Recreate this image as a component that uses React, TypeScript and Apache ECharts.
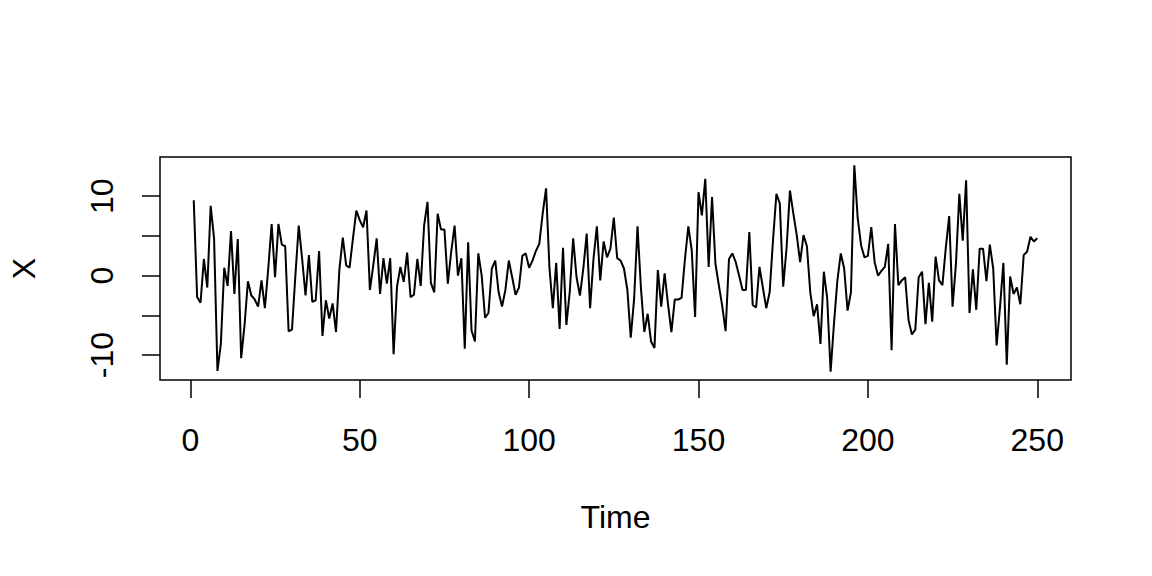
import React, { useEffect, useRef } from "react";
import * as echarts from "echarts";

// Series X (t = 1..250)
const seriesX: number[] = [
  9.5, -2.7, -3.4, 2.1, -1.5, 8.8, 4.7, -12.0, -8.6, 1.0,
  -1.3, 5.6, -2.3, 4.6, -10.4, -6.2, -0.7, -2.5, -3.0, -3.9,
  -0.6, -4.1, 0.9, 6.5, -0.2, 6.5, 3.9, 3.7, -7.0, -6.8,
  0.0, 6.3, 2.1, -2.5, 2.6, -3.3, -3.1, 3.1, -7.6, -3.1,
  -5.4, -3.5, -7.1, 0.8, 4.8, 1.3, 1.0, 4.7, 8.2, 7.0,
  6.1, 8.2, -1.8, 1.3, 4.7, -2.3, 2.2, -1.0, 2.2, -9.9,
  -1.4, 1.1, -0.8, 2.9, -2.7, -2.4, 2.1, -1.3, 6.3, 9.3,
  -0.9, -2.1, 7.8, 5.8, 5.8, -1.0, 3.0, 6.3, 0.0, 2.2,
  -9.2, 4.2, -6.9, -8.3, 2.8, 0.0, -5.3, -4.7, 0.9, 1.9,
  -2.1, -3.9, -1.8, 1.9, -0.2, -2.4, -1.5, 2.5, 2.8, 1.0,
  1.9, 3.1, 4.0, 7.8, 11.0, 1.0, -4.1, 1.6, -6.7, 3.5,
  -6.2, -2.0, 4.7, -0.2, -2.5, 0.9, 5.3, -4.1, 2.1, 6.2,
  -0.6, 4.3, 2.3, 3.4, 7.3, 2.2, 1.9, 0.9, -1.8, -7.8,
  -2.9, 6.2, -1.5, -7.1, -4.8, -8.3, -9.1, 0.7, -3.9, 0.3,
  -3.6, -7.1, -3.0, -3.0, -2.8, 2.1, 6.2, 3.2, -5.2, 10.5,
  7.6, 12.2, 1.1, 9.9, 1.5, -1.2, -3.8, -7.0, 2.1, 2.8,
  1.7, 0.0, -1.8, -1.8, 5.5, -3.7, -4.0, 1.1, -1.5, -4.1,
  -2.1, 4.5, 10.3, 9.1, -1.4, 3.5, 10.7, 7.8, 5.1, 1.7,
  5.1, 3.7, -2.1, -5.1, -3.6, -8.6, 0.5, -2.9, -12.1, -6.0,
  -0.6, 2.8, 0.9, -4.4, -2.1, 13.9, 7.2, 3.8, 2.3, 2.5,
  6.1, 1.7, 0.0, 0.6, 1.1, 4.0, -9.4, 6.5, -1.2, -0.6,
  -0.2, -5.6, -7.4, -6.8, -0.2, 0.5, -6.1, -0.9, -5.8, 2.4,
  -0.6, -1.2, 3.5, 7.5, -3.9, 1.5, 10.3, 4.4, 12.0, -4.7,
  0.8, -4.3, 3.4, 3.4, -0.7, 3.9, 0.9, -8.8, -4.0, 1.6,
  -11.2, -0.1, -2.3, -1.5, -3.6, 2.6, 3.0, 4.9, 4.3, 4.7,
];

const xTicks = [0, 50, 100, 150, 200, 250];
const yTicks = [-10, -5, 0, 5, 10];
const yTickLabels = [-10, 0, 10];

const FONT = "'Liberation Sans', Arial, Helvetica, sans-serif";

export default function App() {
  const ref = useRef<HTMLDivElement>(null);

  useEffect(() => {
    if (!ref.current) return;
    const chart = echarts.init(ref.current, null, { renderer: "svg" });

    const n = seriesX.length;
    const data = seriesX.map((v, i) => [i + 1, v]);
    const ymin = Math.min(...seriesX);
    const ymax = Math.max(...seriesX);
    const xPad = (n - 1) * 0.04;
    const yPad = (ymax - ymin) * 0.04;

    chart.setOption({
      animation: false,
      backgroundColor: "#ffffff",
      grid: {
        left: 158,
        right: 81,
        top: 157,
        bottom: 196,
        show: true,
        borderColor: "#000",
        borderWidth: 1.5,
        backgroundColor: "transparent",
      },
      xAxis: {
        type: "value",
        min: 1 - xPad,
        max: n + xPad,
        axisLine: { show: false, onZero: false },
        splitLine: { show: false },
        axisTick: {
          show: true,
          customValues: xTicks,
          length: 18,
          inside: false,
          lineStyle: { color: "#000", width: 1.5 },
        },
        axisLabel: {
          customValues: xTicks,
          margin: 44,
          fontSize: 32,
          color: "#000",
          fontFamily: FONT,
        },
        name: "Time",
        nameLocation: "middle",
        nameGap: 121,
        nameTextStyle: { fontSize: 32, color: "#000", fontFamily: FONT },
      },
      yAxis: {
        type: "value",
        min: ymin - yPad,
        max: ymax + yPad,
        axisLine: { show: false, onZero: false },
        splitLine: { show: false },
        axisTick: {
          show: true,
          customValues: yTicks,
          length: 18,
          inside: false,
          lineStyle: { color: "#000", width: 1.5 },
        },
        axisLabel: {
          customValues: yTickLabels,
          rotate: 90,
          margin: 42,
          fontSize: 32,
          color: "#000",
          fontFamily: FONT,
        },
        name: "X",
        nameLocation: "middle",
        nameRotate: 90,
        nameGap: 120,
        nameTextStyle: { fontSize: 32, color: "#000", fontFamily: FONT },
      },
      series: [
        {
          type: "line",
          data,
          showSymbol: false,
          symbol: "none",
          lineStyle: { color: "#000", width: 2 },
          silent: true,
        },
      ],
    });

    return () => {
      chart.dispose();
    };
  }, []);

  return (
    <div
      ref={ref}
      style={{ position: "absolute", left: 0, top: 0, width: 1152, height: 576, background: "#fff" }}
    />
  );
}
